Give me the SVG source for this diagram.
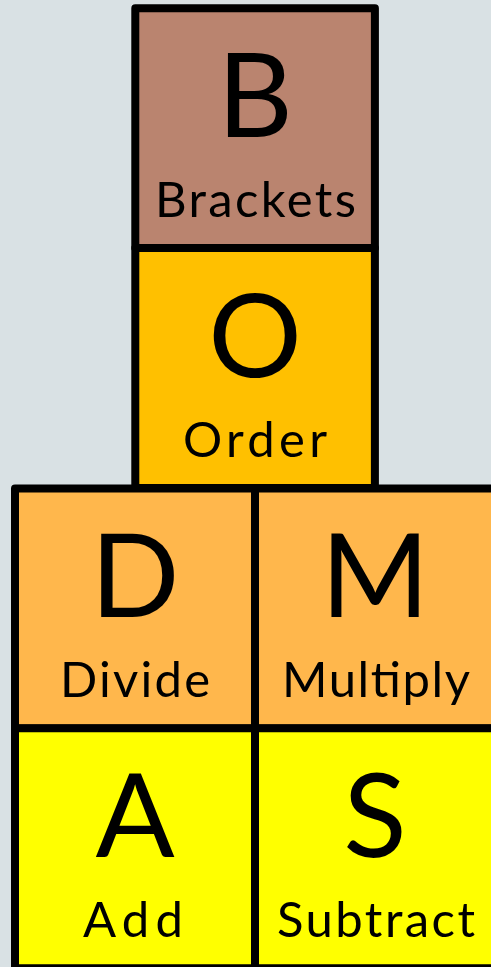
<svg xmlns="http://www.w3.org/2000/svg" width="491" height="967" viewBox="0 0 491 967">
<style>
.cell{stroke:#000;stroke-width:8;stroke-linejoin:round}
.big{font-family:Lato,"Noto Sans","Liberation Sans",sans-serif;font-size:117px;text-anchor:middle;fill:#000}
.lbl{font-family:Lato,"Noto Sans","Liberation Sans",sans-serif;font-size:49px;text-anchor:middle;fill:#000}
</style>
<rect x="0" y="0" width="491" height="967" fill="#D9E1E4"/>
<g id="node-B">
<rect class="cell" x="135.3" y="8.3" width="239.6" height="239.7" fill="#BA846F"/>
<text class="big" x="255" y="137">B</text>
<text class="lbl" x="255.5" y="217" textLength="201" lengthAdjust="spacing">Brackets</text>
</g>
<g id="node-O">
<rect class="cell" x="135.3" y="248" width="239.6" height="240" fill="#FFC000"/>
<text class="big" x="255" y="377">O</text>
<text class="lbl" x="255" y="457" textLength="144" lengthAdjust="spacing">Order</text>
</g>
<g id="node-D">
<rect class="cell" x="15" y="488.5" width="240" height="240" fill="#FFB74C"/>
<text class="big" x="135" y="617">D</text>
<text class="lbl" x="135" y="697" textLength="150" lengthAdjust="spacing">Divide</text>
</g>
<g id="node-M">
<rect class="cell" x="255" y="488.5" width="240" height="240" fill="#FFB74C"/>
<text class="big" x="375" y="617">M</text>
<text class="lbl" x="376" y="697" textLength="188" lengthAdjust="spacing">Multiply</text>
</g>
<g id="node-A">
<rect class="cell" x="15" y="728.3" width="240" height="240" fill="#FFFF00"/>
<text class="big" x="135" y="857">A</text>
<text class="lbl" x="133" y="937" textLength="100" lengthAdjust="spacing">Add</text>
</g>
<g id="node-S">
<rect class="cell" x="255" y="728.3" width="240" height="240" fill="#FFFF00"/>
<text class="big" x="375" y="857">S</text>
<text class="lbl" x="376" y="937" textLength="198" lengthAdjust="spacing">Subtract</text>
</g>
<g id="connectors"></g>
</svg>
